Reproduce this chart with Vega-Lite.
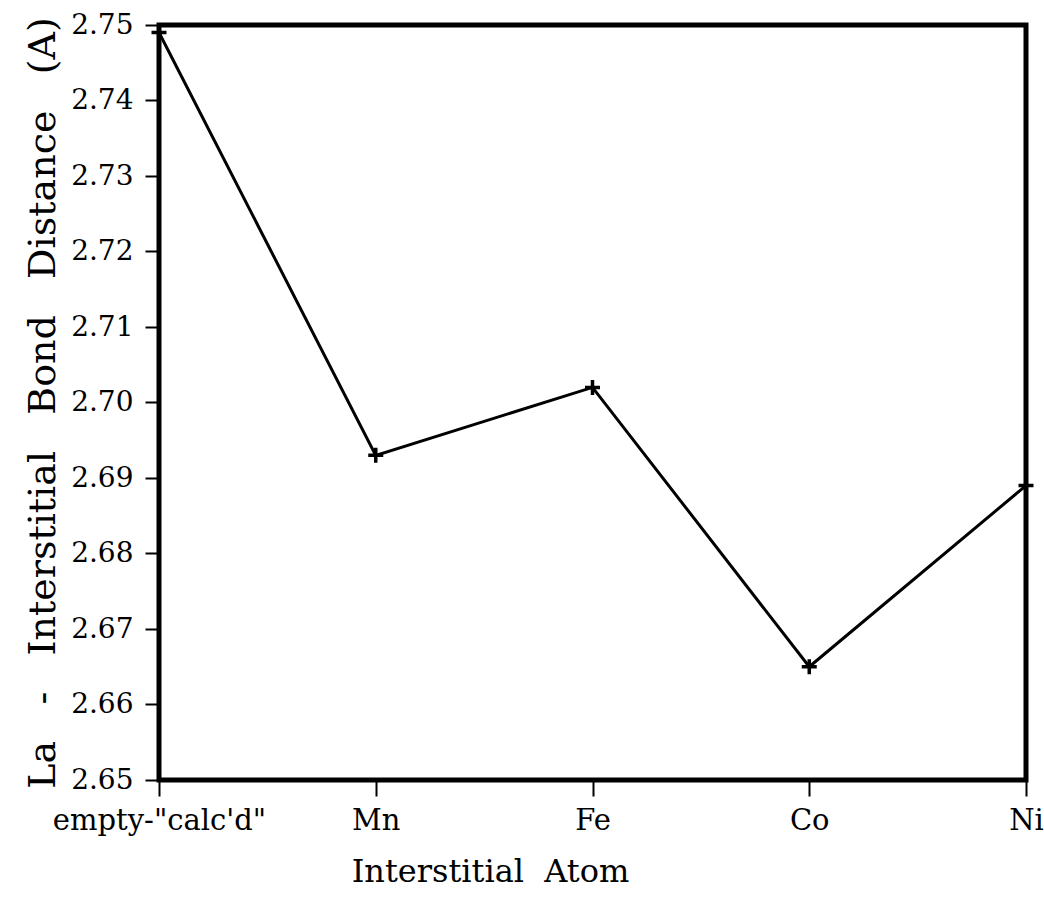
{
  "$schema": "https://vega.github.io/schema/vega-lite/v6.json",
  "autosize": {"type": "none"},
  "width": 867,
  "height": 755,
  "padding": {"left": 159, "top": 25, "right": 18, "bottom": 117},
  "background": "white",
  "config": {
    "view": {"stroke": "black", "strokeWidth": 5},
    "font": "DejaVu Serif",
    "axis": {
      "labelFont": "DejaVu Serif",
      "titleFont": "DejaVu Serif",
      "labelColor": "black",
      "titleColor": "black",
      "tickColor": "black",
      "grid": false,
      "domain": false,
      "labelLimit": 0,
      "labelOverlap": false,
      "titleFontWeight": "normal"
    }
  },
  "data": {
    "values": [
      {"atom": "empty-\"calc'd\"", "distance": 2.749},
      {"atom": "Mn", "distance": 2.693},
      {"atom": "Fe", "distance": 2.702},
      {"atom": "Co", "distance": 2.665},
      {"atom": "Ni", "distance": 2.689}
    ]
  },
  "encoding": {
    "x": {
      "field": "atom",
      "type": "ordinal",
      "sort": null,
      "scale": {"type": "point", "padding": 0},
      "axis": {
        "title": "Interstitial\u00a0\u00a0Atom",
        "labelAngle": 0,
        "labelFontSize": 29,
        "labelPadding": 10,
        "tickSize": 16,
        "tickWidth": 2,
        "titleFontSize": 32,
        "titlePadding": 21,
        "titleX": 331
      }
    },
    "y": {
      "field": "distance",
      "type": "quantitative",
      "scale": {"domain": [2.65, 2.75], "nice": false, "zero": false},
      "axis": {
        "title": "La\u00a0\u00a0\u00a0-\u00a0\u00a0\u00a0Interstitial\u00a0\u00a0\u00a0Bond\u00a0\u00a0\u00a0Distance\u00a0\u00a0\u00a0(A)",
        "values": [2.65, 2.66, 2.67, 2.68, 2.69, 2.70, 2.71, 2.72, 2.73, 2.74, 2.75],
        "format": ".2f",
        "labelFontSize": 28,
        "labelPadding": 12,
        "tickSize": 14,
        "tickWidth": 2,
        "titleFontSize": 38,
        "titlePadding": 8
      }
    }
  },
  "layer": [
    {
      "mark": {"type": "line", "color": "black", "strokeWidth": 3}
    },
    {
      "mark": {
        "type": "point",
        "shape": "M-1,0H1M0,-1V1",
        "size": 225,
        "stroke": "black",
        "strokeWidth": 3.5,
        "filled": false,
        "opacity": 1
      }
    }
  ]
}
